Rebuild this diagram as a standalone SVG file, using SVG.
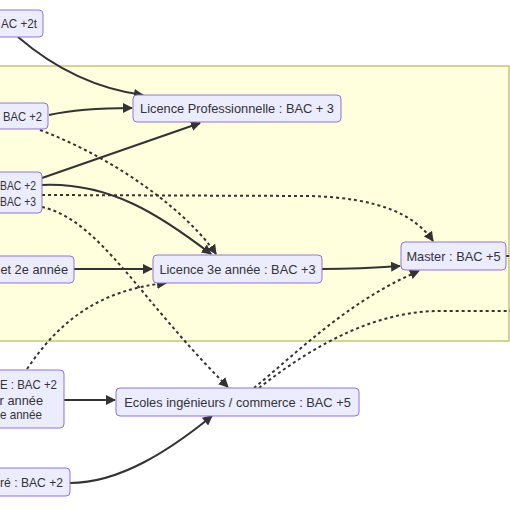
<svg xmlns="http://www.w3.org/2000/svg" width="510" height="510" viewBox="0 0 510 510">
<style>
.node rect{fill:#ECECFF;stroke:#9370DB;stroke-width:1}
.node text{font-family:"Liberation Sans",Arial,sans-serif;font-size:12.8px;fill:#333}
.e{fill:none;stroke:#333;stroke-width:2}
.d{stroke-dasharray:3}
</style>
<defs>
<marker id="ah" viewBox="0 0 10 10" refX="9" refY="5" markerWidth="10" markerHeight="10" markerUnits="userSpaceOnUse" orient="auto">
<path d="M0,0 L10,5 L0,10 z" fill="#333"/>
</marker>
</defs>
<rect width="510" height="510" fill="#fff"/>
<g id="cluster">
<rect x="-5" y="66" width="514" height="275" fill="#ffffde" stroke="#aaaa33" stroke-width="1"/>
</g>
<g id="edges">
<path class="e" d="M18,37 Q75,86 143,95" marker-end="url(#ah)"/>
<path class="e" d="M49,115 Q80,108 132,108" marker-end="url(#ah)"/>
<path class="e d" d="M40,130 C120,160 190,215 216,254" marker-end="url(#ah)"/>
<path class="e" d="M42,178 L200,123" marker-end="url(#ah)"/>
<path class="e" d="M42,185 C110,182 160,215 211,254" marker-end="url(#ah)"/>
<path class="e d" d="M42,195 L310,196 C380,198 415,215 433,241" marker-end="url(#ah)"/>
<path class="e d" d="M42,207 C100,220 140,300 228,387" marker-end="url(#ah)"/>
<path class="e" d="M74,269 L152,269" marker-end="url(#ah)"/>
<path class="e" d="M322,269 Q360,269 400,266" marker-end="url(#ah)"/>
<path class="e d" d="M27,369 C60,320 100,290 166,283" marker-end="url(#ah)"/>
<path class="e" d="M64,400 L115,400" marker-end="url(#ah)"/>
<path class="e" d="M70,483 C120,483 170,450 212,416" marker-end="url(#ah)"/>
<path class="e d" d="M254,388 C300,350 350,300 419,271" marker-end="url(#ah)"/>
<path class="e d" d="M259,388 C320,340 380,311 440,311 L512,311"/>
<path class="e d" d="M506,256 L512,256"/>
</g>
<g id="n1" class="node"><rect x="-10" y="10" width="53" height="27" rx="4"/><text x="1" y="28" textLength="36" lengthAdjust="spacingAndGlyphs">AC +2t</text></g>
<g id="n2" class="node"><rect x="-10" y="103" width="58" height="26" rx="4"/><text x="3" y="121" textLength="39" lengthAdjust="spacingAndGlyphs">BAC +2</text></g>
<g id="n3" class="node"><rect x="-10" y="172" width="52" height="41" rx="4"/><text x="0" y="190" textLength="36" lengthAdjust="spacingAndGlyphs">BAC +2</text><text x="0" y="206" textLength="36" lengthAdjust="spacingAndGlyphs">BAC +3</text></g>
<g id="n4" class="node"><rect x="-10" y="256" width="84" height="27" rx="4"/><text x="68" y="274" text-anchor="end">et 2e année</text></g>
<g id="n5" class="node"><rect x="-10" y="370" width="74" height="58" rx="4"/><text x="0" y="389" textLength="57" lengthAdjust="spacingAndGlyphs">E : BAC +2</text><text x="43" y="405" text-anchor="end">r année</text><text x="0" y="419" textLength="42" lengthAdjust="spacingAndGlyphs">e année</text></g>
<g id="n6" class="node"><rect x="-10" y="468" width="80" height="28" rx="4"/><text x="0" y="487" textLength="63" lengthAdjust="spacingAndGlyphs">ré : BAC +2</text></g>
<g id="lpro" class="node"><rect x="133" y="95" width="208" height="27" rx="4"/><text x="237" y="113" text-anchor="middle">Licence Professionnelle : BAC + 3</text></g>
<g id="l3" class="node"><rect x="153" y="255" width="169" height="28" rx="4"/><text x="237.5" y="273.5" text-anchor="middle">Licence 3e année : BAC +3</text></g>
<g id="ecoles" class="node"><rect x="116" y="388" width="243" height="28" rx="4"/><text x="237.5" y="406.5" text-anchor="middle">Ecoles ingénieurs / commerce : BAC +5</text></g>
<g id="master" class="node"><rect x="401" y="242" width="105" height="28" rx="4"/><text x="453.5" y="260.5" text-anchor="middle">Master : BAC +5</text></g>
</svg>
